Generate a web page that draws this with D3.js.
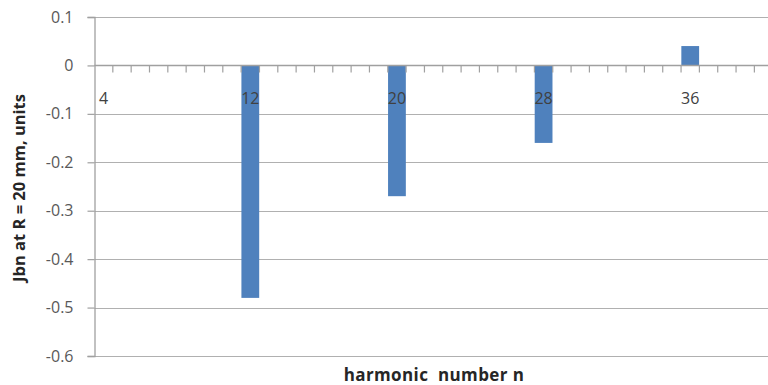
<!DOCTYPE html>
<html>
<head>
<meta charset="utf-8">
<script src="https://cdn.jsdelivr.net/npm/d3@7"></script>
<style>
  body { margin: 0; background: #fff; }
  svg { display: block; }
</style>
</head>
<body>
<script>
// categories on the x axis (harmonic numbers, one band each)
var categories = [4, 5, 6, 7, 8, 9, 10, 11, 12, 13, 14, 15, 16, 17, 18, 19, 20, 21,
                  22, 23, 24, 25, 26, 27, 28, 29, 30, 31, 32, 33, 34, 35, 36, 37, 38, 39, 40];
var harmonics = [12, 20, 28, 36];
var values    = [-0.48, -0.27, -0.16, 0.04];
// labels shown under the axis
var xLabels = [4, 12, 20, 28, 36];
var yTicks  = [0.1, 0, -0.1, -0.2, -0.3, -0.4, -0.5, -0.6];

var W = 768, H = 385;
var plotLeft = 94.5, plotTop = 17, plotBottom = 356;

var svg = d3.select("body").append("svg")
            .attr("width", W)
            .attr("height", H);

var x = d3.scaleBand()
          .domain(categories)
          .range([plotLeft, plotLeft + categories.length * 18.33])
          .paddingInner(0.03)
          .paddingOuter(0.015);

var y = d3.scaleLinear()
          .domain([-0.6, 0.1])
          .range([plotBottom, plotTop]);

// horizontal gridlines
svg.append("g")
   .selectAll("line")
   .data(yTicks)
   .enter().append("line")
   .attr("x1", plotLeft)
   .attr("x2", W)
   .attr("y1", function(d){ return Math.round(y(d)) + 0.5; })
   .attr("y2", function(d){ return Math.round(y(d)) + 0.5; })
   .attr("stroke", "#b0b0b0")
   .attr("stroke-width", 1.2);

// bars
svg.append("g")
   .selectAll("rect")
   .data(harmonics)
   .enter().append("rect")
   .attr("x", function(d){ return x(d); })
   .attr("width", x.bandwidth())
   .attr("y", function(d, i){ return y(Math.max(0, values[i])); })
   .attr("height", function(d, i){ return Math.abs(y(values[i]) - y(0)); })
   .attr("fill", "#4f81bd");

// y axis, plain hyphen for the minus like the original
var yAxis = d3.axisLeft(y)
              .tickValues(yTicks)
              .tickSize(7)
              .tickPadding(14)
              .tickFormat(function(d){ return String(+d.toFixed(1)); });

var gy = svg.append("g")
            .attr("transform", "translate(" + plotLeft + ",0)")
            .call(yAxis);
gy.select(".domain").attr("stroke", "#a0a0a0").attr("stroke-width", 1.3);
gy.selectAll(".tick line").attr("stroke", "#a0a0a0").attr("stroke-width", 1.2);
gy.selectAll(".tick text")
  .attr("font-family", "Open Sans, sans-serif")
  .attr("font-size", 16)
  .attr("fill", "#595959");

// x axis sits at zero, ticks at category boundaries
var gx = svg.append("g").attr("transform", "translate(0," + (Math.round(y(0)) + 0.5) + ")");
gx.append("line")
  .attr("x1", plotLeft)
  .attr("x2", W)
  .attr("stroke", "#a0a0a0")
  .attr("stroke-width", 1.3);

gx.selectAll(".bt")
  .data(categories)
  .enter().append("line")
  .attr("class", "bt")
  .attr("x1", function(d){ return x(d) - x.step() * x.paddingInner() / 2 + x.step(); })
  .attr("x2", function(d){ return x(d) - x.step() * x.paddingInner() / 2 + x.step(); })
  .attr("y1", 0)
  .attr("y2", 7)
  .attr("stroke", "#a0a0a0")
  .attr("stroke-width", 1.2);

gx.selectAll(".lab")
  .data(xLabels)
  .enter().append("text")
  .attr("class", "lab")
  .attr("x", function(d){ return x(d) + x.bandwidth() / 2; })
  .attr("y", 38)
  .attr("text-anchor", "middle")
  .attr("font-family", "Open Sans, sans-serif")
  .attr("font-size", 16)
  .attr("fill", "#404040")
  .text(function(d){ return d; });

// axis titles
svg.append("text")
   .attr("transform", "translate(25,188) rotate(-90)")
   .attr("text-anchor", "middle")
   .attr("font-family", "Open Sans, sans-serif")
   .attr("font-size", 16.5)
   .attr("font-weight", "bold")
   .attr("fill", "#262626")
   .text("Jbn at R = 20 mm, units");

svg.append("text")
   .attr("x", 434)
   .attr("y", 381)
   .attr("text-anchor", "middle")
   .attr("font-family", "Open Sans, sans-serif")
   .attr("font-size", 17)
   .attr("font-weight", "bold")
   .attr("letter-spacing", 0.4)
   .attr("fill", "#262626")
   .text("harmonic  number n")
   .style("white-space", "pre");
</script>
</body>
</html>
